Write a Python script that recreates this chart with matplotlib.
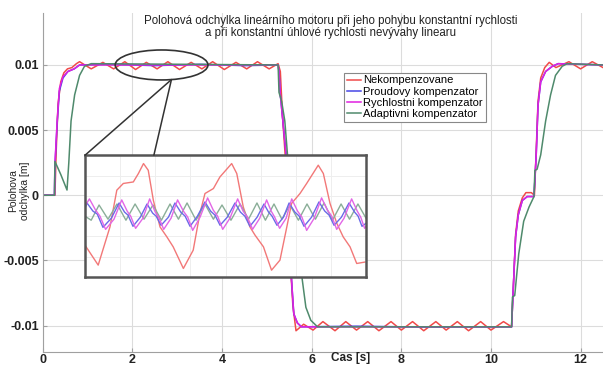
import numpy as np
import matplotlib
matplotlib.use("Agg")
import matplotlib.pyplot as plt
from matplotlib.patches import Ellipse, ConnectionPatch

plt.rcParams['font.family'] = ['Liberation Sans', 'DejaVu Sans']

# ---- main traces (time [s], deviation [m]) ----
t_red = [0, 0.27, 0.30, 0.34, 0.40, 0.47, 0.55, 0.65, 0.75, 0.82,
         1.08, 1.34, 1.58, 1.83, 2.07, 2.31, 2.55, 2.79, 3.05, 3.31, 3.55, 3.79,
         4.05, 4.31, 4.55, 4.79, 5.05, 5.25,
         5.30, 5.35, 5.45, 5.52, 5.58, 5.65, 5.82,
         6.03, 6.25, 6.52, 6.76, 7.00, 7.25, 7.50, 7.77, 8.00, 8.25, 8.50, 8.77,
         9.00, 9.25, 9.50, 9.77, 10.00, 10.28, 10.46,
         10.50, 10.55, 10.61, 10.70, 10.78, 10.90, 10.97, 11.01, 11.05, 11.11,
         11.20, 11.30, 11.45, 11.74, 12.00, 12.26, 12.5]
y_red = [0, 0, 0.0035, 0.0070, 0.0087, 0.0094, 0.0097, 0.0098, 0.0101, 0.01025,
         0.0097, 0.0102, 0.0097, 0.01025, 0.00965, 0.0102, 0.0097, 0.01025, 0.00965, 0.0102, 0.0097, 0.01025,
         0.00965, 0.0102, 0.0097, 0.01025, 0.0097, 0.0101,
         0.0095, 0.0060, 0.0010, -0.0050, -0.0085, -0.0104, -0.0099,
         -0.01035, -0.0097, -0.0104, -0.0097, -0.01035, -0.0097, -0.0104, -0.0097, -0.01035, -0.0097, -0.0104, -0.0097,
         -0.01035, -0.0097, -0.0104, -0.0097, -0.01035, -0.0097, -0.0101,
         -0.0070, -0.0030, -0.0012, -0.0002, 0.0002, 0.0002, 0.0000, 0.0035, 0.0072, 0.0090,
         0.0098, 0.0102, 0.0098, 0.01025, 0.0097, 0.01025, 0.0098]

t_blue = [0, 0.26, 0.27, 0.32, 0.37, 0.45, 0.56, 0.70, 0.82, 1.5, 2.5, 3.5, 4.5, 5.25,
          5.27, 5.30, 5.43, 5.55, 5.60, 5.68, 5.77, 7.0, 8.5, 10.46,
          10.50, 10.55, 10.61, 10.70, 10.81, 10.96, 11.01, 11.05, 11.11, 11.22, 11.37, 11.50, 12.5]
y_blue = [0, 0, 0.0022, 0.0055, 0.0080, 0.0090, 0.0095, 0.0097, 0.0100, 0.01005, 0.00995, 0.01005, 0.00995, 0.0100,
          0.0095, 0.0077, 0.0031, -0.0065, -0.0091, -0.0098, -0.0101, -0.01005, -0.01012, -0.0101,
          -0.0070, -0.0032, -0.0015, -0.0004, -0.0001, -0.0001, 0.0031, 0.0069, 0.0087, 0.0095, 0.0099, 0.0101, 0.0100]

t_mag = [0, 0.26, 0.27, 0.32, 0.37, 0.45, 0.56, 0.70, 0.82, 1.0, 5.25,
         5.27, 5.30, 5.43, 5.55, 5.60, 5.68, 5.77, 10.46,
         10.50, 10.55, 10.61, 10.70, 10.81, 10.96, 11.01, 11.05, 11.11, 11.22, 11.37, 11.50, 12.5]
y_mag = [0, 0, 0.0024, 0.0057, 0.0082, 0.0091, 0.0095, 0.0097, 0.0100, 0.0100, 0.0100,
         0.0095, 0.0077, 0.0031, -0.0065, -0.0091, -0.0098, -0.0101, -0.0101,
         -0.0070, -0.0032, -0.0015, -0.0004, -0.0001, -0.0001, 0.0031, 0.0069, 0.0087, 0.0095, 0.0099, 0.0101, 0.0100]

t_green = [0, 0.26, 0.27, 0.40, 0.54, 0.58, 0.63, 0.71, 0.82, 0.93, 1.08, 5.25,
           5.27, 5.33, 5.40, 5.46, 5.79, 5.87, 5.98, 6.13, 10.46,
           10.48, 10.53, 10.62, 10.73, 10.85, 10.96, 10.98, 11.03, 11.11, 11.22, 11.33, 11.44, 11.59, 11.70, 12.5]
y_green = [0, 0, 0.0026, 0.0016, 0.0004, 0.0025, 0.0057, 0.0077, 0.0092, 0.0099, 0.0101, 0.0100,
           0.0079, 0.0072, 0.0057, 0.0031, -0.0065, -0.0086, -0.0096, -0.0101, -0.0101,
           -0.0078, -0.0077, -0.0045, -0.0020, -0.0009, -0.0001, 0.0019, 0.0020, 0.0031, 0.0057, 0.0077, 0.0092, 0.0099, 0.0101, 0.0100]

# ---- zoomed detail (time [s], deviation [mm]) ----
zt_red = [2.000, 2.075, 2.142, 2.181, 2.218, 2.275, 2.304, 2.333, 2.360, 2.389, 2.427, 2.466,
          2.502, 2.560, 2.616, 2.654, 2.683, 2.731, 2.768, 2.835, 2.864, 2.901, 2.939, 2.968,
          3.016, 3.062, 3.110, 3.149, 3.176, 3.224, 3.262, 3.328, 3.357, 3.395, 3.434, 3.470,
          3.509, 3.547, 3.594]
zy_red = [9.714, 9.518, 9.894, 10.256, 10.322, 10.337, 10.420, 10.518, 10.452, 10.157, 9.894, 9.796,
          9.698, 9.485, 9.665, 10.026, 10.223, 10.272, 10.386, 10.518, 10.420, 10.091, 9.894, 9.813,
          9.698, 9.468, 9.567, 9.894, 10.125, 10.223, 10.322, 10.502, 10.420, 10.125, 9.928, 9.796,
          9.698, 9.534, 9.548]

zt_green = [2.000, 2.035, 2.080, 2.131, 2.182, 2.233, 2.285, 2.336, 2.387, 2.435, 2.484, 2.532,
            2.581, 2.632, 2.683, 2.731, 2.780, 2.831, 2.883, 2.931, 2.979, 3.027, 3.076, 3.121,
            3.167, 3.215, 3.264, 3.312, 3.361, 3.409, 3.458, 3.506, 3.554, 3.600]
zy_green = [10.00, 9.96, 10.11, 9.97, 10.12, 9.96, 10.12, 9.97, 10.11, 9.96, 10.12, 9.97,
            10.13, 9.96, 10.12, 9.97, 10.11, 9.96, 10.12, 9.97, 10.13, 9.96, 10.12, 9.97,
            10.11, 9.96, 10.12, 9.97, 10.13, 9.96, 10.12, 9.97, 10.12, 9.98]

zt_blue = [2.000, 2.011, 2.045, 2.070, 2.102, 2.150, 2.194, 2.225, 2.245, 2.273, 2.315, 2.353,
           2.385, 2.405, 2.433, 2.475, 2.512, 2.545, 2.570, 2.598, 2.640, 2.683, 2.715, 2.740,
           2.769, 2.810, 2.854, 2.885, 2.910, 2.939, 2.980, 3.019, 3.045, 3.065, 3.093, 3.130,
           3.162, 3.195, 3.220, 3.247, 3.290, 3.332, 3.365, 3.390, 3.418, 3.460, 3.503, 3.535,
           3.555, 3.577, 3.600]
zy_blue = [10.08, 10.13, 10.05, 10.02, 9.89, 9.98, 10.13, 10.04, 10.01, 9.90, 9.99, 10.12,
           10.03, 10.00, 9.91, 9.99, 10.13, 10.04, 10.00, 9.90, 10.00, 10.14, 10.05, 10.01,
           9.91, 9.99, 10.13, 10.04, 10.00, 9.90, 9.99, 10.12, 10.04, 10.00, 9.91, 9.99,
           10.13, 10.04, 10.00, 9.90, 9.99, 10.14, 10.05, 10.01, 9.91, 9.99, 10.13, 10.04,
           10.00, 9.90, 9.93]

zt_mag = [2.000, 2.025, 2.060, 2.085, 2.117, 2.165, 2.209, 2.240, 2.260, 2.288, 2.330, 2.368,
          2.400, 2.420, 2.448, 2.490, 2.527, 2.560, 2.585, 2.613, 2.655, 2.698, 2.730, 2.755,
          2.784, 2.825, 2.869, 2.900, 2.925, 2.954, 2.995, 3.034, 3.060, 3.080, 3.108, 3.145,
          3.177, 3.210, 3.235, 3.262, 3.305, 3.347, 3.380, 3.405, 3.433, 3.475, 3.518, 3.550,
          3.570, 3.592, 3.600]
zy_mag = [10.10, 10.17, 10.06, 10.00, 9.87, 9.97, 10.16, 10.05, 10.00, 9.88, 9.98, 10.17,
          10.04, 9.99, 9.87, 9.98, 10.16, 10.05, 9.99, 9.86, 9.99, 10.18, 10.06, 10.00,
          9.87, 9.98, 10.17, 10.05, 9.99, 9.87, 9.98, 10.16, 10.05, 9.99, 9.88, 9.98,
          10.17, 10.05, 9.99, 9.86, 9.98, 10.18, 10.06, 10.00, 9.87, 9.98, 10.17, 10.05,
          9.99, 9.88, 9.90]

labels = ['Nekompenzovane', 'Proudovy kompenzator', 'Rychlostni kompenzator', 'Adaptivni kompenzator']
colors = ['#f04a4a', '#4646e6', '#e020e0', '#4f8a6c']
x_ticks = [0, 2, 4, 6, 8, 10, 12]
y_ticks = [-0.01, -0.005, 0, 0.005, 0.01]
y_ticklabels = ['-0.01', '-0.005', '0', '0.005', '0.01']

fig = plt.figure(figsize=(6.03, 3.67), dpi=100)
ax = fig.add_axes([0.071, 0.042, 0.929, 0.923])

series = [(t_red, y_red), (t_blue, y_blue), (t_mag, y_mag), (t_green, y_green)]
for (t, y), c, lab in zip(series, colors, labels):
    ax.plot(t, y, color=c, lw=1.1, label=lab)

ax.set_xlim(0, 12.5)
ax.set_ylim(-0.012, 0.014)
ax.set_xticks(x_ticks)
ax.set_yticks(y_ticks)
ax.set_yticklabels(y_ticklabels)
ax.grid(True, color='#dcdcdc', lw=0.8)
ax.set_axisbelow(True)
for s in ['top', 'right']:
    ax.spines[s].set_visible(False)
for s in ['left', 'bottom']:
    ax.spines[s].set_color('#a0a0a0')
ax.tick_params(direction='in', length=3, color='#a0a0a0', labelsize=9, pad=3)
ax.tick_params(axis='x', pad=1.5)
for lbl in ax.get_xticklabels() + ax.get_yticklabels():
    lbl.set_fontweight('bold')
    lbl.set_color('#222222')

ax.text(0.55, -0.02, 'Cas [s]', transform=ax.transAxes, ha='center', va='center',
        fontsize=8.5, fontweight='bold', color='#222222')
fig.text(0.032, 0.48, 'Polohova\nodchylka [m]', rotation=90, ha='center', va='center',
         fontsize=7.5, multialignment='center', color='#222222')
ax.text(0.514, 0.958, 'Polohová odchylka lineárního motoru při jeho pohybu konstantní rychlosti\n'
        'a při konstantní úhlové rychlosti nevývahy linearu',
        transform=ax.transAxes, ha='center', va='center', fontsize=8.3, linespacing=1.05,
        color='#222222')

leg = ax.legend(loc='upper left', bbox_to_anchor=(0.5375, 0.8235), borderaxespad=0,
                fontsize=8, labelspacing=0.1, handlelength=1.3, handletextpad=0.2,
                borderpad=0.25, fancybox=False, framealpha=1)
leg.get_frame().set_edgecolor('#888888')
leg.get_frame().set_linewidth(0.8)

# ellipse marking the zoomed region
ell_c, ell_w, ell_h = (2.65, 0.0100), 2.07, 0.0023
ax.add_patch(Ellipse(ell_c, ell_w, ell_h, fill=False, ec='#333333', lw=1.2, zorder=5))

# inset with the detail
axin = fig.add_axes([0.141, 0.245, 0.466, 0.332])
axin.plot(zt_red, zy_red, color='#f27878', lw=1.0)
axin.plot(zt_green, zy_green, color='#8aae98', lw=1.0)
axin.plot(zt_blue, zy_blue, color='#6a6ae8', lw=1.0)
axin.plot(zt_mag, zy_mag, color='#e266e6', lw=1.0)
axin.set_xlim(2.0, 3.6)
axin.set_ylim(9.4, 10.6)
axin.set_xticks(np.arange(2.0, 3.61, 0.2))
axin.set_yticks(np.arange(9.4, 10.61, 0.2))
axin.tick_params(length=0, labelbottom=False, labelleft=False)
axin.grid(True, color='#eeeeee', lw=0.7)
for s in axin.spines.values():
    s.set_color('#555555')
    s.set_linewidth(1.8)

# lines from the ellipse to the inset
tp = 2.87
yp = ell_c[1] - ell_h / 2 * np.sqrt(1 - ((tp - ell_c[0]) / (ell_w / 2)) ** 2)
for fx in [0.0, 0.245]:
    con = ConnectionPatch(xyA=(tp, yp), coordsA=ax.transData, xyB=(fx, 1.0), coordsB=axin.transAxes,
                          color='#333333', lw=1.1)
    fig.add_artist(con)

fig.savefig('out.png', dpi=100)
